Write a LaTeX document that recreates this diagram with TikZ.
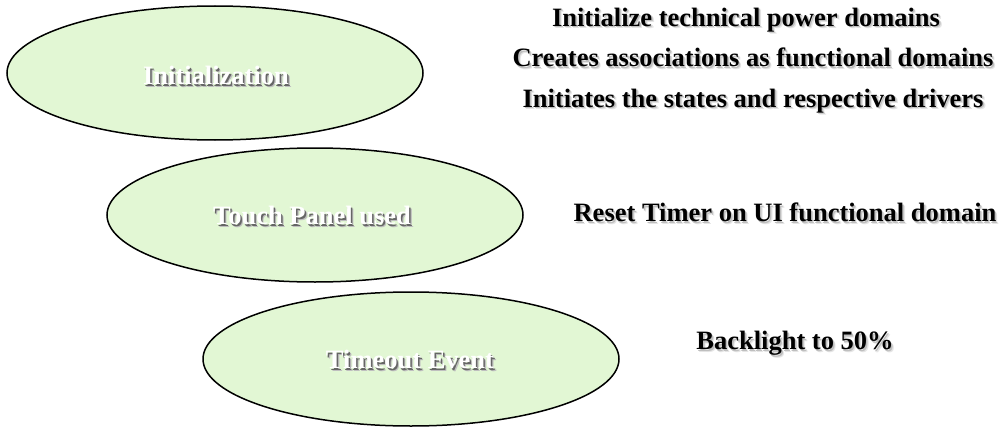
\documentclass[tikz,border=0pt]{standalone}
\usepackage{fontspec}
\setmainfont{Liberation Serif}
\usetikzlibrary{shapes.geometric}
\definecolor{statefill}{HTML}{E2F7D4}
% text with a soft drop shadow: #1 near shadow colour, #2 far shadow colour, #3 text
\newcommand{\dropshadow}[3]{\leavevmode
  \rlap{\kern2.6pt\raisebox{-2.6pt}{\textcolor{#2}{#3}}}%
  \rlap{\kern1.5pt\raisebox{-1.5pt}{\textcolor{#1}{#3}}}%
  #3}
\tikzset{
  state/.style={ellipse, draw=black, line width=1.5pt, fill=statefill,
    inner sep=0pt, minimum width=416pt, minimum height=134pt},
  stlabel/.style={font=\bfseries\fontsize{26.5}{28}\selectfont, text=white},
  action/.style={font=\bfseries\fontsize{26.5}{28}\selectfont, text=black},
}
\newcommand{\stt}[1]{\dropshadow{black!60}{black!25}{#1}}
\newcommand{\act}[1]{\dropshadow{black!25}{black!10}{#1}}
\begin{document}
\begin{tikzpicture}[x=1pt,y=-1pt]
\useasboundingbox (0,0) rectangle (1001,428);
% states
\node[state] (s1) at (215,73) {};
\node[state] (s2) at (315,215) {};
\node[state] (s3) at (411,359) {};
% state labels
\node[stlabel] (l1) at (216,77) {\stt{Initialization}};
\node[stlabel] (l2) at (312,217) {\stt{Touch Panel used}};
\node[stlabel] (l3) at (410,361) {\stt{Timeout Event}};
% actions
\node[action] (a1) at (746,21) {\act{Initialize technical power domains}};
\node[action] (a2) at (753,59) {\act{Creates associations as functional domains}};
\node[action] (a3) at (753,102) {\act{Initiates the states and respective drivers}};
\node[action] (a4) at (785,214) {\act{Reset Timer on UI functional domain}};
\node[action] (a5) at (795,345) {\act{Backlight to 50\%}};
\end{tikzpicture}
\end{document}
